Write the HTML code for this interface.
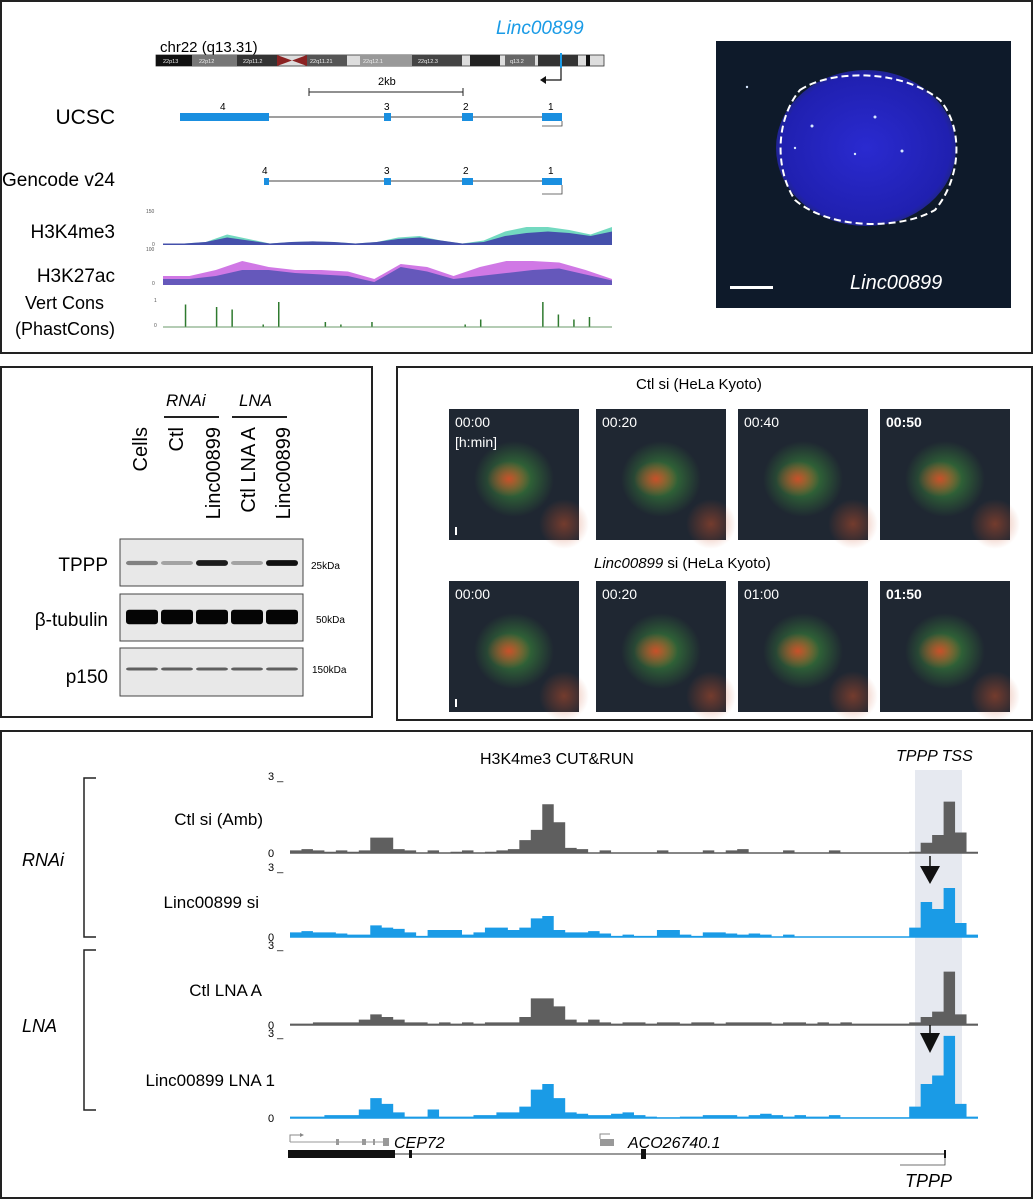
<!DOCTYPE html>
<html><head><meta charset="utf-8"><style>
body{margin:0;background:#fff;}
svg{display:block;font-family:"Liberation Sans",Arial,sans-serif;}
</style></head><body>
<svg id="fig" width="1034" height="1200" viewBox="0 0 1034 1200">
<defs>
<radialGradient id="cellR" cx="50%" cy="50%" r="50%"><stop offset="0" stop-color="#c8502a"/><stop offset="1" stop-color="#c8502a" stop-opacity="0"/></radialGradient>
<radialGradient id="cellG" cx="50%" cy="50%" r="50%"><stop offset="0" stop-color="#3a8a3a"/><stop offset="1" stop-color="#3a8a3a" stop-opacity="0"/></radialGradient>
<radialGradient id="nuc" cx="50%" cy="50%" r="55%"><stop offset="0" stop-color="#2a2ad0"/><stop offset="0.85" stop-color="#2020b0"/><stop offset="1" stop-color="#202a60"/></radialGradient>
</defs>

<!-- Panel A -->
<g>
<rect x="1" y="1" width="1031" height="352" fill="#fff" stroke="#222" stroke-width="2"/>
<text x="160" y="52" font-size="15">chr22 (q13.31)</text>
<text x="496" y="34" font-size="19" font-style="italic" fill="#1a9be6">Linc00899</text>
<g>
<rect x="156" y="55" width="448" height="11" fill="#ddd" stroke="#333" stroke-width="0.8"/>
<rect x="156" y="55" width="36" height="11" fill="#111"/>
<rect x="192" y="55" width="45" height="11" fill="#777"/>
<rect x="237" y="55" width="40" height="11" fill="#333"/>
<polygon points="277,55 292,60.5 277,66" fill="#8b2222"/>
<polygon points="307,55 292,60.5 307,66" fill="#8b2222"/>
<rect x="307" y="55" width="40" height="11" fill="#555"/>
<rect x="360" y="55" width="52" height="11" fill="#999"/>
<rect x="412" y="55" width="50" height="11" fill="#444"/>
<rect x="470" y="55" width="30" height="11" fill="#222"/>
<rect x="505" y="55" width="30" height="11" fill="#666"/>
<rect x="538" y="55" width="40" height="11" fill="#333"/>
<rect x="586" y="55" width="4" height="11" fill="#111"/>
<g font-size="5.5" fill="#eee"><text x="163" y="63">22p13</text><text x="199" y="63">22p12</text><text x="243" y="63">22p11.2</text><text x="310" y="63">22q11.21</text><text x="363" y="63">22q12.1</text><text x="418" y="63">22q12.3</text><text x="510" y="63">q13.2</text></g>
<rect x="560" y="53" width="2" height="15" fill="#1a9be6"/>
<path d="M561 68 V80 H542" fill="none" stroke="#111" stroke-width="1.2"/>
<polygon points="540,80 546,76 546,84" fill="#111"/>
</g>
<g>
<line x1="309" y1="92" x2="463" y2="92" stroke="#222"/><line x1="309" y1="88" x2="309" y2="96" stroke="#222"/><line x1="463" y1="88" x2="463" y2="96" stroke="#222"/>
<text x="378" y="85" font-size="11">2kb</text></g>
<g font-size="19" text-anchor="end">
<text x="115" y="124" font-size="21">UCSC</text>
<text x="115" y="186">Gencode v24</text>
<text x="115" y="238">H3K4me3</text>
<text x="115" y="282">H3K27ac</text>
<text x="104" y="309" font-size="18">Vert Cons</text>
<text x="115" y="335" font-size="18">(PhastCons)</text>
</g>
<g>
<line x1="180" y1="117" x2="562" y2="117" stroke="#666" stroke-width="1.2"/>
<rect x="180" y="113" width="89" height="8" fill="#1a8fe0"/><rect x="384" y="113" width="7" height="8" fill="#1a8fe0"/>
<rect x="462" y="113" width="11" height="8" fill="#1a8fe0"/><rect x="542" y="113" width="20" height="8" fill="#1a8fe0"/>
<text x="220" y="110" font-size="10">4</text><text x="384" y="110" font-size="10">3</text><text x="463" y="110" font-size="10">2</text><text x="548" y="110" font-size="10">1</text>
<path d="M562 121 V126 H542" fill="none" stroke="#444" stroke-width="0.8"/></g>
<g>
<line x1="264" y1="181" x2="562" y2="181" stroke="#444" stroke-width="1"/>
<rect x="264" y="178" width="5" height="7" fill="#1a8fe0"/><rect x="384" y="178" width="7" height="7" fill="#1a8fe0"/>
<rect x="462" y="178" width="11" height="7" fill="#1a8fe0"/><rect x="542" y="178" width="20" height="7" fill="#1a8fe0"/>
<text x="262" y="174" font-size="10">4</text><text x="384" y="174" font-size="10">3</text><text x="463" y="174" font-size="10">2</text><text x="548" y="174" font-size="10">1</text>
<path d="M562 185 V194 H542" fill="none" stroke="#444" stroke-width="0.8"/></g>
<g font-size="5" fill="#555"><text x="146" y="213">150</text><text x="152" y="246">0</text><text x="146" y="251">100</text><text x="152" y="285">0</text><text x="154" y="302">1</text><text x="154" y="327">0</text></g>
<g id="epiA"></g>
</g>

<!-- Panel A image -->
<g>
<rect x="716" y="41" width="295" height="267" fill="#0e1a2a"/>
<ellipse cx="866" cy="148" rx="90" ry="78" fill="url(#nuc)"/>
<path d="M800 90 C830 70 900 68 940 100 C965 130 960 180 935 210 C900 230 830 230 795 200 C775 170 775 120 800 90Z" fill="none" stroke="#fff" stroke-width="2" stroke-dasharray="7,4"/>
<g fill="#d8e8ff"><circle cx="812" cy="126" r="1.5"/><circle cx="875" cy="117" r="1.5"/><circle cx="902" cy="151" r="1.5"/><circle cx="795" cy="148" r="1.2"/><circle cx="855" cy="154" r="1.2"/><circle cx="747" cy="87" r="1.2"/></g>
<rect x="730" y="286" width="43" height="3" fill="#fff"/>
<text x="850" y="289" font-size="20" font-style="italic" fill="#fff">Linc00899</text>
</g>

<!-- Panel B -->
<g>
<rect x="1" y="367" width="371" height="350" fill="#fff" stroke="#222" stroke-width="2"/>
<text x="166" y="406" font-size="17" font-style="italic">RNAi</text>
<text x="239" y="406" font-size="17" font-style="italic">LNA</text>
<line x1="164" y1="417" x2="219" y2="417" stroke="#222" stroke-width="2"/>
<line x1="232" y1="417" x2="287" y2="417" stroke="#222" stroke-width="2"/>
<g font-size="20" text-anchor="end">
<text transform="translate(147,427) rotate(-90)">Cells</text>
<text transform="translate(183,427) rotate(-90)">Ctl</text>
<text transform="translate(220,427) rotate(-90)">Linc00899</text>
<text transform="translate(255,427) rotate(-90)">Ctl LNA  A</text>
<text transform="translate(290,427) rotate(-90)">Linc00899</text>
</g>
<g font-size="19" text-anchor="end">
<text x="108" y="571">TPPP</text>
<text x="108" y="626">β-tubulin</text>
<text x="108" y="683">p150</text>
</g>
<g font-size="10"><text x="311" y="569">25kDa</text><text x="316" y="623">50kDa</text><text x="312" y="673">150kDa</text></g>
<rect x="120" y="539" width="183" height="47" fill="#e8e8e8" stroke="#444"/>
<rect x="120" y="594" width="183" height="47" fill="#e8e8e8" stroke="#444"/>
<rect x="120" y="648" width="183" height="48" fill="#e8e8e8" stroke="#444"/>
<g id="bands"></g>
</g>

<!-- Panel C -->
<g>
<rect x="397" y="367" width="635" height="353" fill="#fff" stroke="#222" stroke-width="2"/>
<text x="636" y="389" font-size="15">Ctl si (HeLa Kyoto)</text>
<text x="594" y="568" font-size="15"><tspan font-style="italic">Linc00899</tspan> si (HeLa Kyoto)</text>
<g id="tiles"></g>
</g>

<!-- Panel D -->
<g>
<rect x="1" y="731" width="1031" height="467" fill="#fff" stroke="#222" stroke-width="2"/>
<rect x="915" y="770" width="47" height="345" fill="#e6e9f0"/>
<text x="480" y="764" font-size="16">H3K4me3 CUT&amp;RUN</text>
<text x="896" y="761" font-size="16" font-style="italic">TPPP TSS</text>
<path d="M96 778 H84 V937 H96" fill="none" stroke="#222" stroke-width="1.5"/>
<path d="M96 950 H84 V1110 H96" fill="none" stroke="#222" stroke-width="1.5"/>
<text x="22" y="866" font-size="18" font-style="italic">RNAi</text>
<text x="22" y="1032" font-size="18" font-style="italic">LNA</text>
<g font-size="17" text-anchor="end"><text x="263" y="825">Ctl si (Amb)</text><text x="259" y="908">Linc00899 si</text><text x="262" y="996">Ctl LNA  A</text><text x="275" y="1086">Linc00899 LNA 1</text></g>
<g id="cr"></g>
<g>
<line x1="930" y1="856" x2="930" y2="868" stroke="#111" stroke-width="1.5"/><polygon points="920,866 940,866 930,884" fill="#111"/>
<line x1="930" y1="1025" x2="930" y2="1035" stroke="#111" stroke-width="1.5"/><polygon points="920,1033 940,1033 930,1053" fill="#111"/>
</g>
<g>
<path d="M290 1142 V1135 H300" fill="none" stroke="#888"/><polygon points="300,1133 304,1135 300,1137" fill="#888"/>
<line x1="290" y1="1142" x2="388" y2="1142" stroke="#999"/>
<rect x="336" y="1139" width="3" height="6" fill="#999"/><rect x="362" y="1139" width="4" height="6" fill="#999"/><rect x="373" y="1139" width="2" height="6" fill="#999"/><rect x="383" y="1138" width="6" height="8" fill="#999"/>
<text x="394" y="1148" font-size="16" font-style="italic">CEP72</text>
<rect x="600" y="1139" width="14" height="7" fill="#999"/><path d="M600 1139 V1134 H610" fill="none" stroke="#888"/>
<text x="628" y="1148" font-size="16" font-style="italic">ACO26740.1</text>
<line x1="290" y1="1154" x2="945" y2="1154" stroke="#333"/>
<rect x="288" y="1150" width="107" height="8" fill="#111"/>
<rect x="409" y="1150" width="3" height="8" fill="#111"/><rect x="641" y="1149" width="5" height="10" fill="#111"/><rect x="944" y="1150" width="2" height="8" fill="#111"/>
<path d="M945 1158 V1165 H900" fill="none" stroke="#444" stroke-width="0.8"/>
<text x="905" y="1187" font-size="18" font-style="italic">TPPP</text>
</g>
</g>
</svg>
<script>
// ---- CUT&RUN data (0-3 scale, 60 bins) ----
const crCategories = ["Ctl si (Amb)","Linc00899 si","Ctl LNA A","Linc00899 LNA 1"];
const ctlSi = [0.1,0.15,0.1,0.05,0.1,0.05,0.1,0.6,0.6,0.15,0.1,0.02,0.1,0.02,0.05,0.1,0.02,0.05,0.1,0.15,0.5,0.9,1.9,1.2,0.2,0.15,0.02,0.1,0.02,0.02,0.02,0.02,0.1,0.02,0.02,0.02,0.1,0.02,0.1,0.15,0.02,0.02,0.02,0.1,0.02,0.02,0.02,0.1,0.02,0.02,0.02,0.02,0.02,0.02,0.05,0.4,0.7,2.0,0.8,0.05];
const lincSi = [0.2,0.25,0.2,0.2,0.15,0.1,0.1,0.5,0.4,0.35,0.2,0.05,0.3,0.3,0.3,0.1,0.2,0.4,0.4,0.3,0.4,0.8,0.9,0.3,0.2,0.2,0.25,0.15,0.05,0.1,0.05,0.05,0.3,0.3,0.1,0.05,0.2,0.2,0.15,0.1,0.15,0.1,0.02,0.1,0.02,0.02,0.02,0.02,0.02,0.02,0.02,0.02,0.02,0.02,0.4,1.5,1.2,2.1,0.6,0.1];
const ctlLna = [0.05,0.05,0.1,0.1,0.1,0.1,0.2,0.4,0.3,0.2,0.1,0.1,0.05,0.1,0.05,0.1,0.05,0.1,0.1,0.1,0.3,1.0,1.0,0.7,0.2,0.1,0.2,0.1,0.05,0.1,0.1,0.05,0.1,0.1,0.05,0.1,0.1,0.05,0.1,0.1,0.1,0.1,0.05,0.1,0.1,0.05,0.1,0.05,0.1,0.05,0.05,0.05,0.05,0.05,0.1,0.3,0.5,2.0,0.4,0.05];
const lincLna = [0.05,0.05,0.05,0.1,0.1,0.1,0.3,0.7,0.5,0.2,0.05,0.05,0.3,0.05,0.05,0.05,0.1,0.1,0.2,0.2,0.4,1.0,1.2,0.7,0.2,0.15,0.1,0.1,0.15,0.2,0.1,0.05,0.02,0.02,0.05,0.05,0.1,0.1,0.1,0.05,0.1,0.15,0.1,0.05,0.1,0.05,0.05,0.1,0.02,0.02,0.02,0.02,0.02,0.02,0.4,1.2,1.5,2.9,0.5,0.05];
const crTicks = ["0","3"];
// ---- Blot band intensities (0-1) ----
const lanes = ["Cells","Ctl","Linc00899","Ctl LNA A","Linc00899"];
const tppp = [0.45,0.3,0.9,0.3,0.95];
const tubulin = [1,1,1,1,1];
const p150 = [0.6,0.6,0.6,0.6,0.6];
// ---- Panel A epigenome (0-1) ----
const h3k4me3 = [0.05,0.05,0.1,0.25,0.15,0.05,0.1,0.12,0.1,0.05,0.1,0.2,0.25,0.15,0.05,0.1,0.3,0.4,0.45,0.4,0.3,0.45];
const h3k4me3b = [0.05,0.05,0.1,0.35,0.2,0.05,0.1,0.12,0.1,0.05,0.1,0.25,0.3,0.15,0.05,0.15,0.45,0.6,0.6,0.5,0.35,0.6];
const h3k27ac = [0.3,0.3,0.5,0.8,0.6,0.5,0.5,0.45,0.2,0.7,0.6,0.3,0.6,0.8,0.8,0.75,0.5,0.2];
const h3k27acb = [0.2,0.2,0.3,0.5,0.5,0.4,0.35,0.3,0.1,0.6,0.45,0.2,0.3,0.4,0.5,0.55,0.35,0.15];
const phast = [0,0.9,0,0.8,0.7,0,0.1,1,0,0,0.2,0.1,0,0.2,0,0,0,0,0,0.1,0.3,0,0,0,1,0.5,0.3,0.4,0];
const timesRow1 = ["00:00","00:20","00:40","00:50"];
const timesRow2 = ["00:00","00:20","01:00","01:50"];

const NS="http://www.w3.org/2000/svg";
function mk(tag,attrs,parent){const e=document.createElementNS(NS,tag);for(const k in attrs)e.setAttribute(k,attrs[k]);parent.appendChild(e);return e;}

// CUT&RUN tracks
const cr=document.getElementById('cr');
const x0=290,x1=978;
const baselines=[853,937,1025,1118], scaleH=[77,70,80,85];
const series=[ctlSi,lincSi,ctlLna,lincLna], colors=["#5f5f5f","#1a9be6","#5f5f5f","#1a9be6"];
function xScale(i,n){return x0+(x1-x0)*i/n;}
function yScale(v,t){return baselines[t]-v/3*scaleH[t];}
series.forEach((s,t)=>{
  let d=`M${x0},${baselines[t]}`;
  s.forEach((v,i)=>{const xa=xScale(i,s.length),xb=xScale(i+1,s.length),y=yScale(v,t);d+=` L${xa},${y} L${xb},${y}`;});
  d+=` L${x1},${baselines[t]} Z`;
  const p=mk('path',{d:d,fill:colors[t]},cr);
  
  
  const b=mk('line',{x1:x0,x2:x1,y1:baselines[t],y2:baselines[t],stroke:colors[t],'stroke-width':1.5},cr);
  
  
  const lo=mk('text',{x:268,y:baselines[t]+4,'font-size':11},cr);lo.textContent=crTicks[0];
  
  
  const hi=mk('text',{x:268,y:yScale(3,t)+4,'font-size':11},cr);hi.textContent=crTicks[1]+" _";
  
  
});

// Blot bands
const bands=document.getElementById('bands');
const laneX=[142,177,212,247,282];
const blots=[[tppp,563,5],[tubulin,617,12],[p150,669,3]];
blots.forEach(([vals,cy,h])=>{vals.forEach((v,i)=>{
  const g=Math.round(230-v*225);
  const e=mk('rect',{x:laneX[i]-16,y:cy-h/2*(0.6+v*0.6),width:32,height:h*(0.6+v*0.6),rx:3,fill:`rgb(${g},${g},${g})`},bands);
  
  
});});

// Epigenome tracks panel A
const ep=document.getElementById('epiA');
function area(vals,base,h,fill,op){let d=`M163,${base}`;vals.forEach((v,i)=>{const x=163+(612-163)*i/(vals.length-1);d+=` L${x},${base-v*h}`});d+=` L612,${base} Z`;const p=mk('path',{d:d,fill:fill,opacity:op},ep);return p;}
let a0=area(h3k4me3b,245,30,"#50d0b0",0.8);


let a1=area(h3k4me3,245,30,"#4040a8",0.9);


let a2=area(h3k27ac,285,30,"#c860e0",0.85);


let a3=area(h3k27acb,285,30,"#4a50b0",0.8);


phast.forEach((v,i)=>{const x=170+(605-170)*i/(phast.length-1);
  const l=mk('line',{x1:x,x2:x,y1:327,y2:327-v*25,stroke:"#2f7a2f",'stroke-width':1.5},ep);
  
  });
const pb=mk('line',{x1:163,x2:612,y1:327,y2:327,stroke:"#6a9a6a"},ep);



// Microscopy tiles
const tiles=document.getElementById('tiles');
const tx=[449,596,738,880], rows=[[409,timesRow1],[581,timesRow2]];
rows.forEach(([ty,times],r)=>{tx.forEach((x,i)=>{
  const g=mk('g',{},tiles);
  
  
  mk('rect',{x:x,y:ty,width:130,height:131,fill:'#1f2732'},g);
  mk('ellipse',{cx:x+65,cy:ty+70,rx:40,ry:38,fill:'url(#cellG)'},g);
  mk('ellipse',{cx:x+60,cy:ty+70,rx:22,ry:18,fill:'url(#cellR)'},g);
  mk('ellipse',{cx:x+115,cy:ty+115,rx:25,ry:25,fill:'url(#cellR)',opacity:0.5},g);
  const t=mk('text',{x:x+6,y:ty+18,'font-size':14,fill:'#fff','font-weight':i==3?'bold':'normal'},g);t.textContent=times[i];
  if(r==0&&i==0){const u=mk('text',{x:x+6,y:ty+38,'font-size':14,fill:'#fff'},g);u.textContent='[h:min]';}
  if(i==0){mk('rect',{x:x+6,y:ty+118,width:2,height:8,fill:'#fff'},g);}
});});
</script>
</body></html>
